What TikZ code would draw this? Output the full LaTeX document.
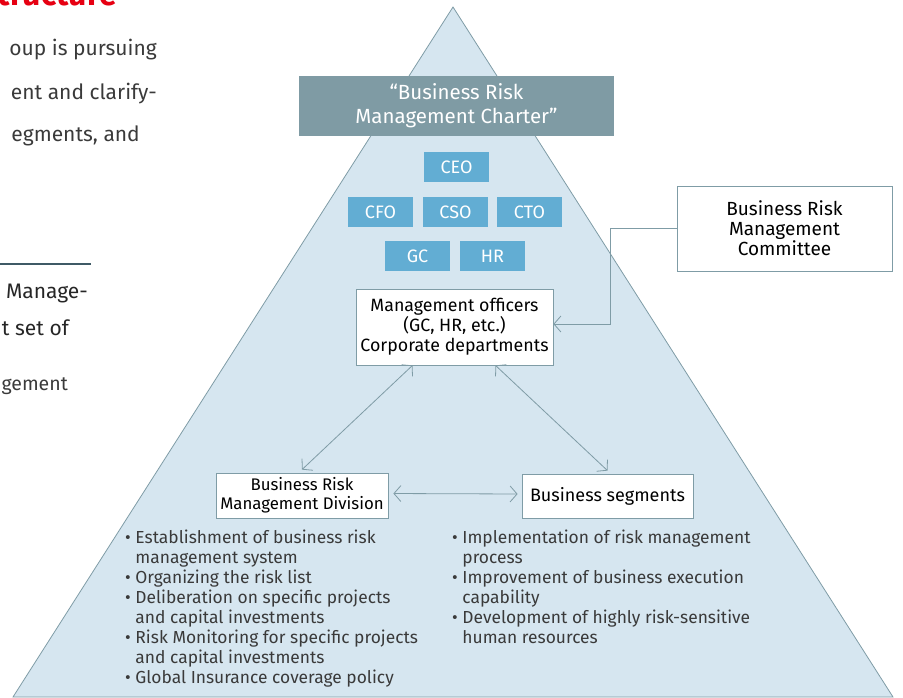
\documentclass[tikz,border=0pt]{standalone}
\usepackage{fontspec}
\setmainfont{Fira Sans}
\usetikzlibrary{arrows.meta}
\definecolor{pyramid}{HTML}{D6E6F0}
\definecolor{edgeline}{HTML}{7F9CA6}
\definecolor{charterfill}{HTML}{7F9BA4}
\definecolor{officerfill}{HTML}{62ADD3}
\definecolor{bodytext}{HTML}{3A3A3A}
\definecolor{rulecolor}{HTML}{3F5A66}
\definecolor{headred}{HTML}{E60012}

\begin{document}
\begin{tikzpicture}[x=1pt,y=-1pt,
    officer/.style={fill=officerfill,text=white,minimum width=65pt,minimum height=30pt,inner sep=0pt,font=\fontsize{18}{20}\selectfont},
    whitebox/.style={draw=edgeline,fill=white,line width=0.8pt,align=center,inner sep=0pt,text=black},
    link/.style={draw=edgeline,line width=0.8pt,{Straight Barb[length=7pt,width=16pt]}-{Straight Barb[length=7pt,width=16pt]}},
    linkend/.style={draw=edgeline,line width=0.8pt,-{Straight Barb[length=7pt,width=16pt]}},
    pagetext/.style={anchor=base east,text=bodytext,inner sep=0pt,font=\fontsize{21}{24}\selectfont},
    bullets/.style={anchor=north west,align=left,inner sep=0pt,text=bodytext,font=\fontsize{17.4}{20}\selectfont}]

    \clip (0,0) rectangle (903,697);

    \node[anchor=base east,text=headred,inner sep=0pt,font=\fontsize{32}{34}\selectfont\bfseries] (heading) at (117,5) {Structure};
    \node[pagetext] (para1) at (157,55) {oup is pursuing};
    \node[pagetext] (para2) at (157,99) {ent and clarify-};
    \node[pagetext] (para3) at (140,141) {egments, and};
    \draw[rulecolor,line width=1.5pt] (0,264) -- (91,264);
    \node[pagetext,text=black!85] (note1) at (88,298) {Manage-};
    \node[pagetext,text=black!85] (note2) at (69,335) {t set of};
    \node[pagetext,font=\fontsize{19.5}{22}\selectfont] (note3) at (68,390) {gement};

    \draw[edgeline,fill=pyramid,line width=0.8pt] (453,7) -- (893,697) -- (13,697) -- cycle;

    \node[fill=charterfill,text=white,minimum width=315pt,minimum height=60pt,inner sep=0pt,align=center,font=\fontsize{20.5}{24}\selectfont] (charter) at (456.5,106) {``Business Risk\\Management Charter''};

    \node[officer] (ceo) at (456.5,167) {CEO};
    \node[officer] (cfo) at (380.5,212) {CFO};
    \node[officer] (cso) at (455.5,212) {CSO};
    \node[officer] (cto) at (529.5,212) {CTO};
    \node[officer] (gc) at (417.5,256) {GC};
    \node[officer] (hr) at (492.5,256) {HR};

    \node[whitebox,minimum width=197pt,minimum height=76pt,font=\fontsize{17.8}{20}\selectfont] (mgmt) at (454.5,327) {Management officers\\(GC, HR, etc.)\\Corporate departments};
    \node[whitebox,minimum width=215pt,minimum height=85pt,font=\fontsize{19}{20}\selectfont] (committee) at (784.5,228.5) {Business Risk\\Management\\Committee};
    \node[whitebox,minimum width=172pt,minimum height=45pt,font=\fontsize{16.8}{19}\selectfont] (division) at (302,495.5) {Business Risk\\Management Division};
    \node[whitebox,minimum width=171pt,minimum height=44pt,font=\fontsize{18}{20}\selectfont] (segments) at (607.5,496) {Business segments};

    \draw[linkend] (committee.west) -- ++(-66,0) |- ([yshift=3pt]mgmt.east);
    \draw[link] ([xshift=-42pt]mgmt.south) -- ([yshift=3pt]division.north);
    \draw[link] ([xshift=41pt]mgmt.south) -- ([yshift=3pt]segments.north);
    \draw[link,shorten <=5pt,shorten >=4pt] ([yshift=2pt]division.east) -- ([yshift=2pt]segments.west);

    \node[bullets] (divlist) at (125,530) {%
        • Establishment of business risk\\
        \phantom{• }management system\\
        • Organizing the risk list\\
        • Deliberation on specific projects\\
        \phantom{• }and capital investments\\
        • Risk Monitoring for specific projects\\
        \phantom{• }and capital investments\\
        • Global Insurance coverage policy};
    \node[bullets] (seglist) at (452,530) {%
        • Implementation of risk management\\
        \phantom{• }process\\
        • Improvement of business execution\\
        \phantom{• }capability\\
        • Development of highly risk-sensitive\\
        \phantom{• }human resources};

\end{tikzpicture}
\end{document}
